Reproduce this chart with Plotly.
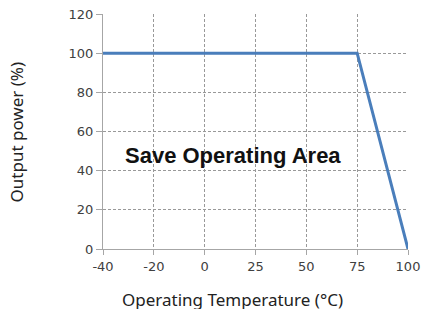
import plotly.graph_objects as go

# Data
temp_ticks = ["-40", "-20", "0", "25", "50", "75", "100"]
curve_temp = ["-40", "75", "100"]
curve_power = [100, 100, 0]
y_ticks = [0, 20, 40, 60, 80, 100, 120]
annotation_text = "Save Operating Area"
x_title = "Operating Temperature (°C)"
y_title = "Output power (%)"

fig = go.Figure()
fig.add_trace(go.Scatter(
    x=curve_temp, y=curve_power, mode="lines",
    line=dict(color="#4A7EBB", width=3),
    showlegend=False, hoverinfo="skip",
))

fig.add_annotation(
    x=2.56, y=47.5, xref="x", yref="y",
    text="<b>" + annotation_text + "</b>", showarrow=False,
    font=dict(family="Liberation Sans, Arial", size=22, color="#111111"),
)
fig.add_annotation(
    x=0.426, y=-0.217, xref="paper", yref="paper",
    xanchor="center", yanchor="middle",
    text=x_title, showarrow=False,
    font=dict(family="Noto Sans", size=17, color="#222222"),
)
fig.add_annotation(
    x=-0.282, y=0.5, xref="paper", yref="paper",
    xanchor="center", yanchor="middle", textangle=-90,
    text=y_title, showarrow=False,
    font=dict(family="Noto Sans", size=17, color="#222222"),
)

fig.update_layout(
    width=423, height=309,
    margin=dict(l=103, r=15, t=14, b=60, autoexpand=False),
    paper_bgcolor="white", plot_bgcolor="white",
    font=dict(family="Liberation Sans, Arial", color="#404040"),
)
fig.update_xaxes(
    type="category", categoryorder="array", categoryarray=temp_ticks,
    range=[0, 6], tickvals=temp_ticks, ticktext=temp_ticks,
    showgrid=True, gridcolor="#999999", griddash="3px,2px", gridwidth=1,
    showline=True, linecolor="#A6A6A6", linewidth=1,
    ticks="outside", ticklen=5, tickcolor="#A6A6A6",
    tickfont=dict(size=13, color="#404040", family="DejaVu Sans"),
    zeroline=False, automargin=False,
)
fig.update_yaxes(
    range=[0, 120], tickvals=y_ticks,
    showgrid=True, gridcolor="#999999", griddash="3px,2px", gridwidth=1,
    showline=True, linecolor="#A6A6A6", linewidth=1,
    ticks="outside", ticklen=6, tickcolor="#A6A6A6",
    tickfont=dict(size=13, color="#404040", family="DejaVu Sans"),
    zeroline=False, automargin=False,
)

fig.write_html("out.html", config={"displayModeBar": False},
               post_script="document.body.style.margin='0';")
